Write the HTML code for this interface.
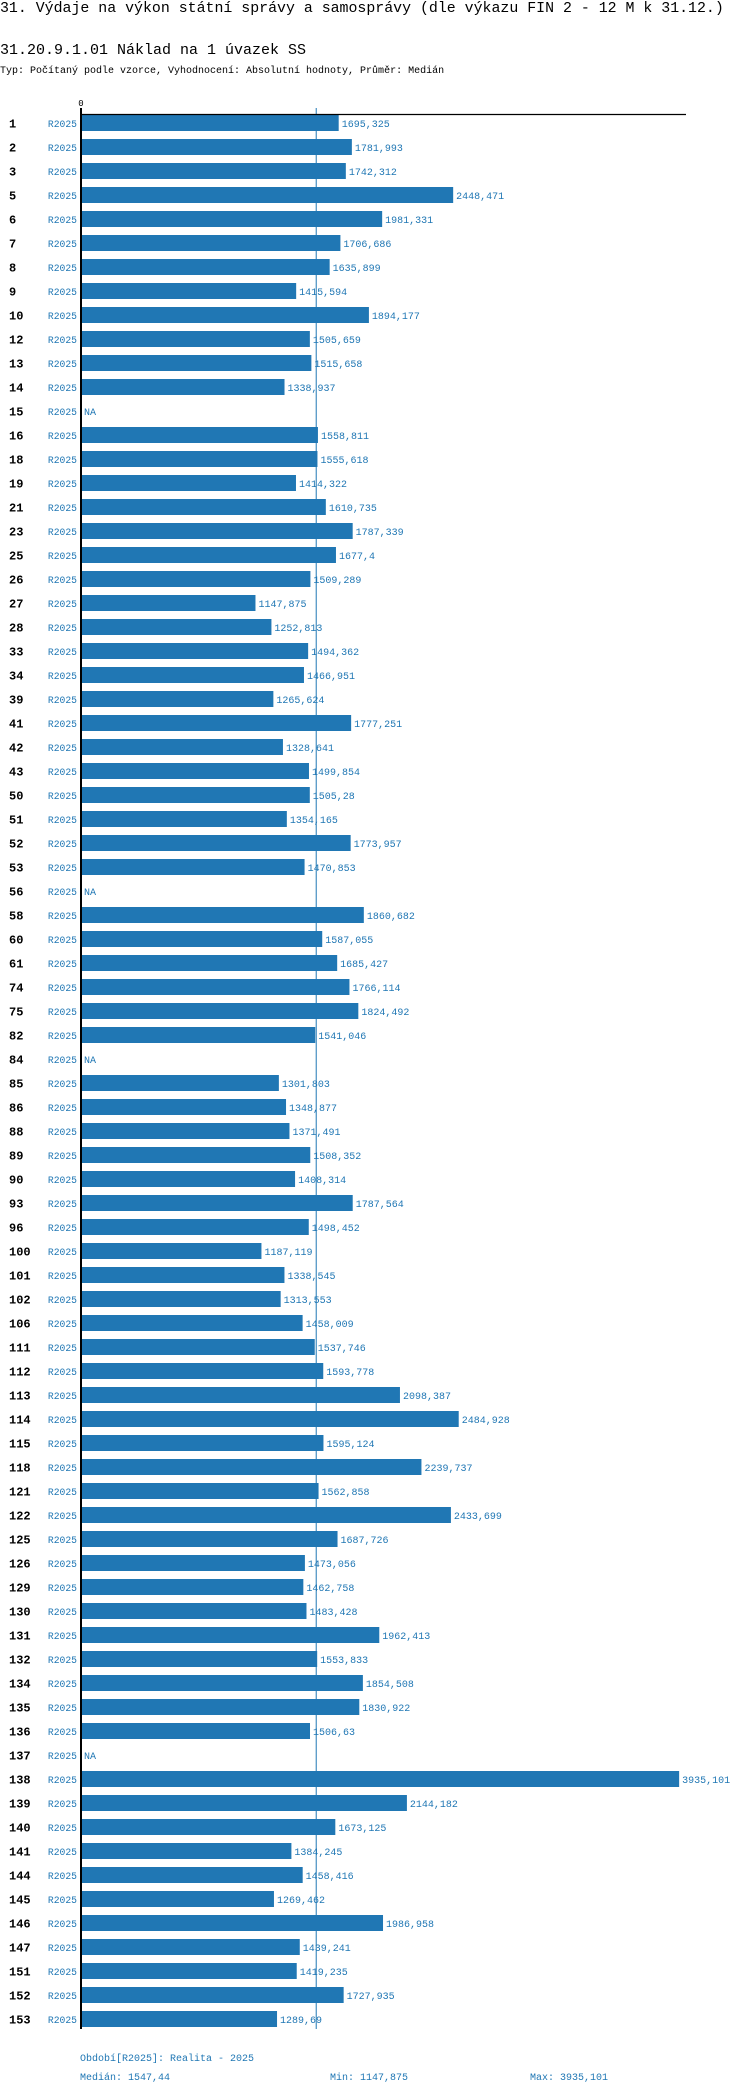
<!DOCTYPE html>
<html><head><meta charset="utf-8">
<style>
body{margin:0;background:#fff;width:750px;height:2094px;position:relative;overflow:hidden;font-family:"Liberation Mono",monospace}
.t{position:absolute;white-space:nowrap}
</style></head><body>
<div class="t" style="left:0;top:1px;font-size:14.9px;">31. Výdaje na výkon státní správy a samosprávy (dle výkazu FIN 2 - 12 M k 31.12.)</div>
<div class="t" style="left:0;top:42px;font-size:15px;">31.20.9.1.01 Náklad na 1 úvazek SS</div>
<div class="t" style="left:0;top:66px;font-size:10px;">Typ: Počítaný podle vzorce, Vyhodnocení: Absolutní hodnoty, Průměr: Medián</div>
<svg id="chart" width="750" height="2094" style="position:absolute;left:0;top:0" xmlns="http://www.w3.org/2000/svg"></svg>
<script>
const categories=["1","2","3","5","6","7","8","9","10","12","13","14","15","16","18","19","21","23","25","26","27","28","33","34","39","41","42","43","50","51","52","53","56","58","60","61","74","75","82","84","85","86","88","89","90","93","96","100","101","102","106","111","112","113","114","115","118","121","122","125","126","129","130","131","132","134","135","136","137","138","139","140","141","144","145","146","147","151","152","153"];
const values=[1695.325,1781.993,1742.312,2448.471,1981.331,1706.686,1635.899,1415.594,1894.177,1505.659,1515.658,1338.937,null,1558.811,1555.618,1414.322,1610.735,1787.339,1677.4,1509.289,1147.875,1252.813,1494.362,1466.951,1265.624,1777.251,1328.641,1499.854,1505.28,1354.165,1773.957,1470.853,null,1860.682,1587.055,1685.427,1766.114,1824.492,1541.046,null,1301.803,1348.877,1371.491,1508.352,1408.314,1787.564,1498.452,1187.119,1338.545,1313.553,1458.009,1537.746,1593.778,2098.387,2484.928,1595.124,2239.737,1562.858,2433.699,1687.726,1473.056,1462.758,1483.428,1962.413,1553.833,1854.508,1830.922,1506.63,null,3935.101,2144.182,1673.125,1384.245,1458.416,1269.462,1986.958,1439.241,1419.235,1727.935,1289.69];
const seriesName="R2025";
const median=1547.44, minV=1147.875, maxV=3935.101;
const NS="http://www.w3.org/2000/svg";
const svg=document.getElementById('chart');
const x0=81, k=0.152, y0=123, step=24, bh=16, C="#2077b4";
const xs=v=>x0+v*k, ys=i=>y0+i*step;
const fmt=v=>String(v).replace('.',',');
function mk(tag,a,txt){const e=document.createElementNS(NS,tag);for(const p in a)e.setAttribute(p,a[p]);if(txt!==undefined)e.textContent=txt;svg.appendChild(e);return e;}
const n=categories.length;
const bottom=ys(n-1)+10;
values.forEach((v,i)=>{
  const y=ys(i);
  const lab=mk('text',{x:9,y:y+4.5,'font-size':12,'font-weight':'bold','font-family':'Liberation Mono, monospace',fill:'#000'},categories[i]);
  
  
  const s=mk('text',{x:77,y:y+4,'font-size':9.7,'text-anchor':'end','font-family':'Liberation Mono, monospace',fill:C},seriesName);
  
  
  if(v===null){
    const na=mk('text',{x:x0+3,y:y+4,'font-size':10,'font-family':'Liberation Mono, monospace',fill:C},'NA');
    
    
    return;
  }
  const r=mk('rect',{x:x0,y:y-bh/2,width:xs(v)-x0,height:bh,fill:C});
  
  
  const t=mk('text',{x:xs(v)+3,y:y+4,'font-size':10,'font-family':'Liberation Mono, monospace',fill:C},fmt(v));
  
  
});
const ml=mk('line',{x1:xs(median),x2:xs(median),y1:108,y2:bottom,stroke:C,'stroke-width':1});


const tl=mk('line',{x1:x0,x2:686,y1:114.5,y2:114.5,stroke:'#000','stroke-width':1.3});


const al=mk('line',{x1:x0,x2:x0,y1:108,y2:bottom,stroke:'#000','stroke-width':2});


const z=mk('text',{x:x0,y:106,'font-size':9,'text-anchor':'middle','font-family':'Liberation Mono, monospace',fill:'#000'},'0');


const f1=mk('text',{x:80,y:2061,'font-size':10,'font-family':'Liberation Mono, monospace',fill:C},'Období['+seriesName+']: Realita - 2025');


const f2=mk('text',{x:80,y:2080,'font-size':10,'font-family':'Liberation Mono, monospace',fill:C},'Medián: '+fmt(median));


const f3=mk('text',{x:330,y:2080,'font-size':10,'font-family':'Liberation Mono, monospace',fill:C},'Min: '+fmt(minV));


const f4=mk('text',{x:530,y:2080,'font-size':10,'font-family':'Liberation Mono, monospace',fill:C},'Max: '+fmt(maxV));


</script>
</body></html>
